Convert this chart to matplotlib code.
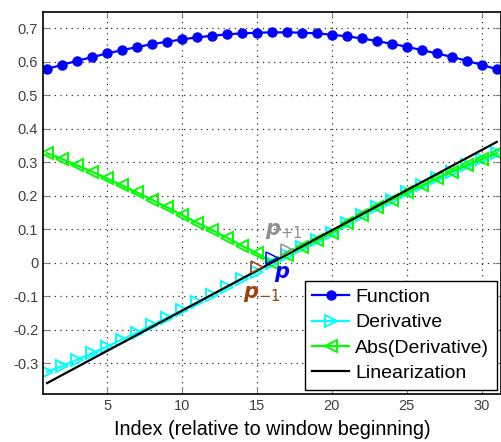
import numpy as np
from matplotlib import pyplot as plt

# index relative to window beginning
idx = np.arange(1, 32)

# values
function = [0.578, 0.590, 0.602, 0.613, 0.624, 0.634, 0.643, 0.652, 0.659, 0.666,
            0.672, 0.677, 0.681, 0.684, 0.686, 0.687, 0.687, 0.686, 0.684, 0.680,
            0.675, 0.669, 0.661, 0.653, 0.644, 0.634, 0.624, 0.614, 0.602, 0.590, 0.577]

derivative = [-0.326, -0.309, -0.290, -0.271, -0.251, -0.230, -0.209, -0.187, -0.165, -0.142,
              -0.119, -0.097, -0.074, -0.050, -0.028, 0.000, 0.022, 0.045, 0.066, 0.088,
              0.117, 0.142, 0.165, 0.187, 0.209, 0.230, 0.251, 0.271, 0.290, 0.309, 0.326]

abs_derivative = [abs(v) for v in derivative]

# linearization around p
p = 16
slope = 0.024
linearization = [slope * (i - p) for i in idx]

# markers at p-1, p, p+1
p_x = [15, 16, 17]
p_y = [-0.012, 0.013, 0.038]
p_colors = ['#a04010', '#0000ff', '#909090']
p_labels = [r'$\mathbfit{p}_{-1}$', r'$\mathbfit{p}$', r'$\mathbfit{p}_{+1}$']
p_label_pos = [(15.3, -0.095), (16.7, -0.035), (16.8, 0.095)]

plt.rcParams['font.family'] = ['Liberation Sans', 'DejaVu Sans']

fig = plt.figure(figsize=(5.02, 4.42), dpi=100)
ax = fig.add_axes([0.0857, 0.109, 0.912, 0.864])

ax.plot(idx, function, '-o', color='blue', lw=1.6, ms=6.5, mec='blue', mfc='blue', label='Function')
ax.plot(idx, derivative, '->', color='cyan', lw=1.6, ms=8, mfc='none', mew=1.4, label='Derivative')
ax.plot(idx, abs_derivative, '-<', color='#00ff00', lw=1.6, ms=8, mfc='none', mew=1.4, label='Abs(Derivative)')
ax.plot(idx, linearization, '-', color='black', lw=1.6, label='Linearization')

for x, y, c in zip(p_x, p_y, p_colors):
    ax.plot(x, y, '>', color=c, ms=8, mfc='none', mew=1.1)
for (tx, ty), lab, c in zip(p_label_pos, p_labels, p_colors):
    ax.text(tx, ty, lab, color=c, fontsize=15, ha='center', va='center')

ax.set_xlim(0.73, 31.27)
ax.set_ylim(-0.392, 0.748)
ax.set_xticks([5, 10, 15, 20, 25, 30])
ax.set_yticks(np.round(np.arange(-0.3, 0.75, 0.1), 1))
ax.set_yticklabels(['-0.3', '-0.2', '-0.1', '0', '0.1', '0.2', '0.3', '0.4', '0.5', '0.6', '0.7'])
ax.grid(True, linestyle=(0, (1, 3.5)), color='#303030', lw=0.9)
ax.tick_params(direction='in', top=True, right=True, labelsize=10.5, labelcolor='#404040',
               color='#808080', length=4)
for s in ax.spines.values():
    s.set_linewidth(1.2)

ax.set_xlabel('Index (relative to window beginning)', fontsize=14.2, labelpad=5)

leg = ax.legend(loc='lower right', fontsize=14, fancybox=False, framealpha=1, edgecolor='black',
                handlelength=1.9, labelspacing=0.4, borderaxespad=0.2, borderpad=0.4,
                handletextpad=0.3, numpoints=1)
leg.get_frame().set_linewidth(1.0)

plt.savefig('out.png', dpi=100)
